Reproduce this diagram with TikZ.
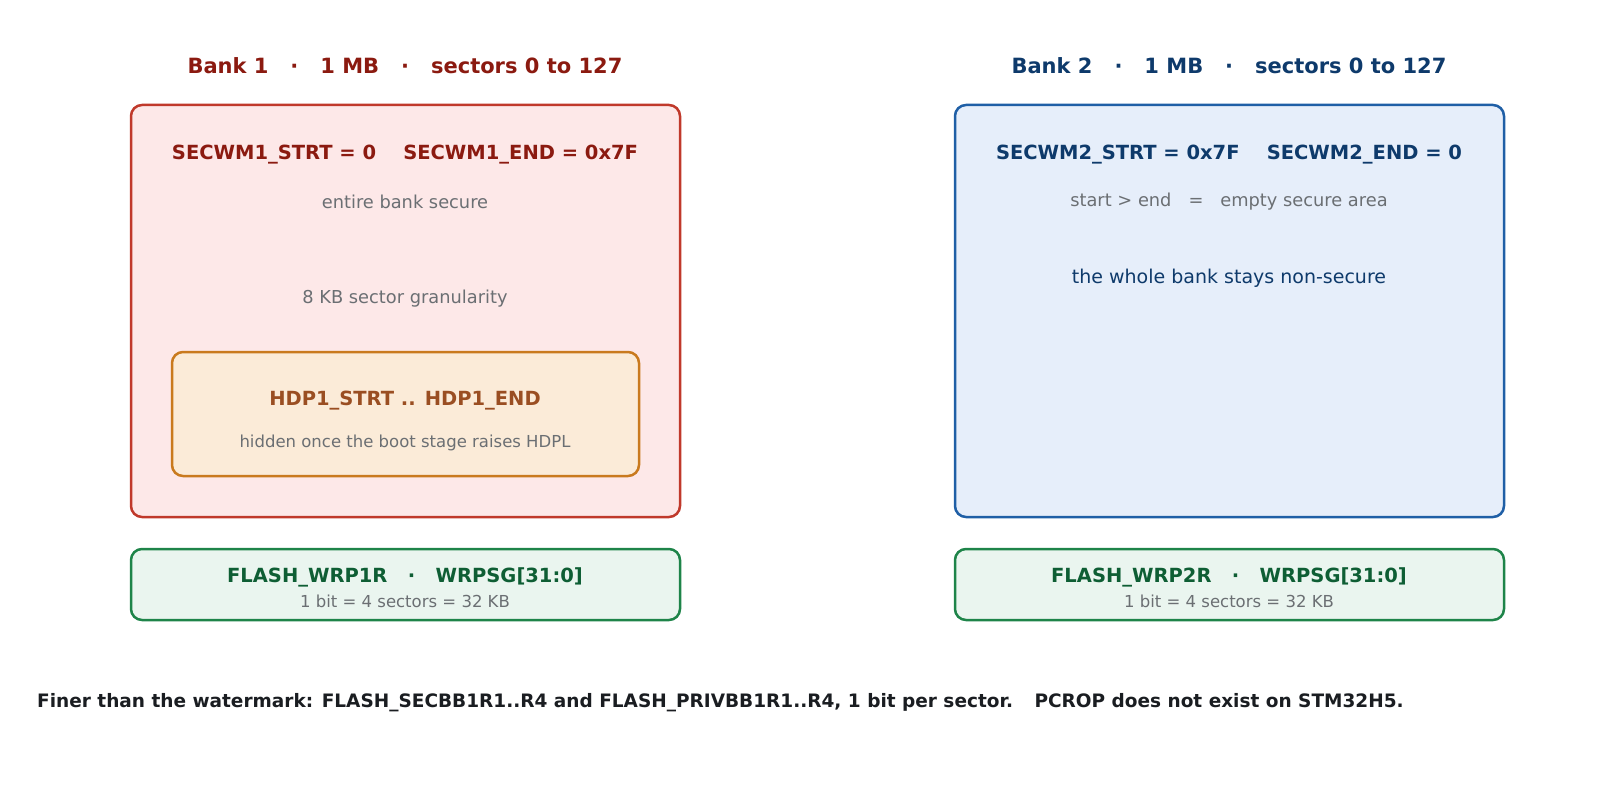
\documentclass[tikz,border=0pt]{standalone}
\usepackage{fontspec}
\setmainfont{DejaVu Sans}
\begin{document}
\definecolor{rb}{HTML}{C0392B}\definecolor{rf}{HTML}{FDE8E8}\definecolor{rt}{HTML}{8B1A10}
\definecolor{bb}{HTML}{1F5FA6}\definecolor{bf}{HTML}{E6EEFA}\definecolor{bt}{HTML}{0E3A6B}
\definecolor{ob}{HTML}{C97A1E}\definecolor{of}{HTML}{FBEBD8}\definecolor{ot}{HTML}{9A4E22}
\definecolor{gb}{HTML}{1E8449}\definecolor{gf}{HTML}{EAF5EF}\definecolor{gt}{HTML}{0E5E34}
\definecolor{gr}{HTML}{6B6F73}\definecolor{dk}{HTML}{1A1D21}
\begin{tikzpicture}[x=1pt,y=-1pt,
 box/.style={rounded corners=11pt,line width=2.5pt},
 ttl/.style={font=\fontsize{21}{24}\selectfont\bfseries},
 hd/.style={font=\fontsize{19.5}{22}\selectfont\bfseries},
 sub/.style={font=\fontsize{17.8}{20}\selectfont,text=gr},
 sm/.style={font=\fontsize{16.5}{19}\selectfont,text=gr}]
\useasboundingbox (0,0) rectangle (1600,802);
\node[ttl,text=rt] (t1) at (405,66) {Bank 1 \ \ · \ \ 1 MB \ \ · \ \ sectors 0 to 127};
\node[ttl,text=bt] (t2) at (1229,66) {Bank 2 \ \ · \ \ 1 MB \ \ · \ \ sectors 0 to 127};
\draw[box,draw=rb,fill=rf] (131,105) rectangle (680,517);
\draw[box,draw=bb,fill=bf] (955,105) rectangle (1504,517);
\node[hd,text=rt] (s1) at (405,155) {SECWM1\_STRT = 0 \ \ \ SECWM1\_END = 0x7F};
\node[sub] (e1) at (405,202) {entire bank secure};
\node[sub] (g1) at (405,299) {8 KB sector granularity};
\draw[box,draw=ob,fill=of] (172,352) rectangle (639,476);
\node[hd,text=ot] (h1) at (405,401) {HDP1\_STRT .. HDP1\_END};
\node[sm] (h2) at (405,443) {hidden once the boot stage raises HDPL};
\node[hd,text=bt] (s2) at (1229,155) {SECWM2\_STRT = 0x7F \ \ \ SECWM2\_END = 0};
\node[sub] (e2) at (1229,202) {start > end \ \ = \ \ empty secure area};
\node[font=\fontsize{19}{22}\selectfont,text=bt] (w2) at (1229,278) {the whole bank stays non-secure};
\draw[box,draw=gb,fill=gf] (131,549) rectangle (680,620);
\draw[box,draw=gb,fill=gf] (955,549) rectangle (1504,620);
\node[hd,text=gt] (r1) at (405,577) {FLASH\_WRP1R \ \ · \ \ WRPSG[31:0]};
\node[sm] (r1b) at (405,601) {1 bit = 4 sectors = 32 KB};
\node[hd,text=gt] (r2) at (1229,577) {FLASH\_WRP2R \ \ · \ \ WRPSG[31:0]};
\node[sm] (r2b) at (1229,601) {1 bit = 4 sectors = 32 KB};
\node[anchor=west,inner sep=0pt,font=\fontsize{18.5}{21}\selectfont\bfseries,text=dk] (ft) at (37,703) {Finer than the watermark: FLASH\_SECBB1R1..R4 and FLASH\_PRIVBB1R1..R4, 1 bit per sector. \ \ PCROP does not exist on STM32H5.};
\end{tikzpicture}
\end{document}
